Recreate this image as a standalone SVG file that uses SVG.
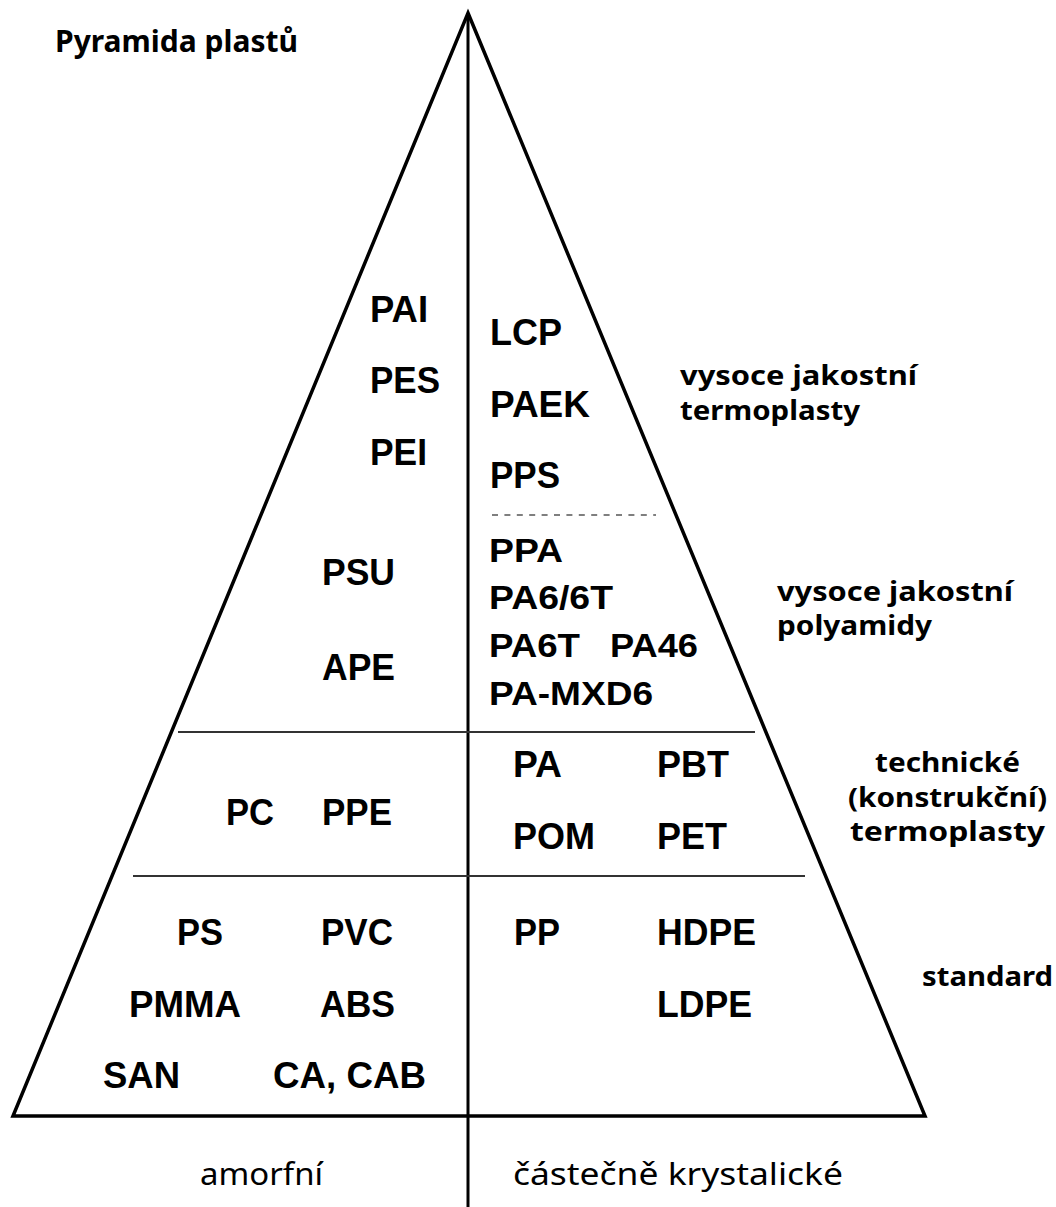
<svg xmlns="http://www.w3.org/2000/svg" width="1056" height="1207" viewBox="0 0 1056 1207">
<style>
.frame{fill:none;stroke:#000;stroke-width:3.5;stroke-linejoin:miter}
.axis{stroke:#000;stroke-width:3}
.div{stroke:#333;stroke-width:2}
.dash{stroke:#555;stroke-width:1.6;stroke-dasharray:6 6.4}
.lb{font-family:"Liberation Sans",Arial,sans-serif;font-weight:bold;font-size:37px;fill:#000}
.lm{font-family:"Liberation Sans",Arial,sans-serif;font-weight:bold;font-size:33px;fill:#000}
.cat{font-family:"Noto Sans","Open Sans",sans-serif;font-weight:bold;font-size:26px;fill:#000}
.bot{font-family:"Noto Sans","Open Sans",sans-serif;font-size:30px;fill:#000}
.title{font-family:"Noto Sans","Open Sans",sans-serif;font-weight:bold;font-size:30px;fill:#000}
</style>
<rect width="1056" height="1207" fill="#fff"/>
<g id="connectors">
<polygon class="frame" points="468,13 925,1116 13,1116"/>
<line class="axis" x1="468" y1="13" x2="468" y2="1207"/>
<line class="div" x1="178" y1="732" x2="755" y2="732"/>
<line class="div" x1="133" y1="876" x2="805" y2="876"/>
<line class="dash" x1="492" y1="515" x2="656" y2="515"/>
</g>
<g id="title"><text class="title" x="55" y="52" textLength="243" lengthAdjust="spacingAndGlyphs">Pyramida plastů</text></g>
<g id="amorphous-high">
<text class="lb" x="370" y="322" textLength="58" lengthAdjust="spacingAndGlyphs">PAI</text>
<text class="lb" x="370" y="393" textLength="70" lengthAdjust="spacingAndGlyphs">PES</text>
<text class="lb" x="370" y="465" textLength="57" lengthAdjust="spacingAndGlyphs">PEI</text>
<text class="lb" x="322" y="585" textLength="73" lengthAdjust="spacingAndGlyphs">PSU</text>
<text class="lb" x="322" y="680" textLength="73" lengthAdjust="spacingAndGlyphs">APE</text>
</g>
<g id="crystalline-high">
<text class="lb" x="490" y="345" textLength="72" lengthAdjust="spacingAndGlyphs">LCP</text>
<text class="lb" x="490" y="417" textLength="100" lengthAdjust="spacingAndGlyphs">PAEK</text>
<text class="lb" x="490" y="488" textLength="70" lengthAdjust="spacingAndGlyphs">PPS</text>
</g>
<g id="polyamides">
<text class="lm" x="489" y="562" textLength="74" lengthAdjust="spacingAndGlyphs">PPA</text>
<text class="lm" x="489" y="609" textLength="124" lengthAdjust="spacingAndGlyphs">PA6/6T</text>
<text class="lm" x="489" y="657" textLength="91" lengthAdjust="spacingAndGlyphs">PA6T</text>
<text class="lm" x="610" y="657" textLength="88" lengthAdjust="spacingAndGlyphs">PA46</text>
<text class="lm" x="489" y="705" textLength="164" lengthAdjust="spacingAndGlyphs">PA-MXD6</text>
</g>
<g id="technical">
<text class="lb" x="226" y="825" textLength="48" lengthAdjust="spacingAndGlyphs">PC</text>
<text class="lb" x="322" y="825" textLength="70" lengthAdjust="spacingAndGlyphs">PPE</text>
<text class="lb" x="513" y="777" textLength="49" lengthAdjust="spacingAndGlyphs">PA</text>
<text class="lb" x="657" y="777" textLength="72" lengthAdjust="spacingAndGlyphs">PBT</text>
<text class="lb" x="513" y="849" textLength="82" lengthAdjust="spacingAndGlyphs">POM</text>
<text class="lb" x="657" y="849" textLength="70" lengthAdjust="spacingAndGlyphs">PET</text>
</g>
<g id="standard">
<text class="lb" x="177" y="945" textLength="46" lengthAdjust="spacingAndGlyphs">PS</text>
<text class="lb" x="321" y="945" textLength="72" lengthAdjust="spacingAndGlyphs">PVC</text>
<text class="lb" x="514" y="945" textLength="46" lengthAdjust="spacingAndGlyphs">PP</text>
<text class="lb" x="657" y="945" textLength="99" lengthAdjust="spacingAndGlyphs">HDPE</text>
<text class="lb" x="129" y="1017" textLength="112" lengthAdjust="spacingAndGlyphs">PMMA</text>
<text class="lb" x="320" y="1017" textLength="75" lengthAdjust="spacingAndGlyphs">ABS</text>
<text class="lb" x="657" y="1017" textLength="95" lengthAdjust="spacingAndGlyphs">LDPE</text>
<text class="lb" x="103" y="1088" textLength="77" lengthAdjust="spacingAndGlyphs">SAN</text>
<text class="lb" x="273" y="1088" textLength="153" lengthAdjust="spacingAndGlyphs">CA, CAB</text>
</g>
<g id="categories">
<text class="cat" x="680" y="385" textLength="237" lengthAdjust="spacingAndGlyphs">vysoce jakostní</text>
<text class="cat" x="680" y="420" textLength="180" lengthAdjust="spacingAndGlyphs">termoplasty</text>
<text class="cat" x="777" y="601" textLength="236" lengthAdjust="spacingAndGlyphs">vysoce jakostní</text>
<text class="cat" x="777" y="635" textLength="155" lengthAdjust="spacingAndGlyphs">polyamidy</text>
<text class="cat" x="875" y="772" textLength="145" lengthAdjust="spacingAndGlyphs">technické</text>
<text class="cat" x="848" y="807" textLength="199" lengthAdjust="spacingAndGlyphs">(konstrukční)</text>
<text class="cat" x="850" y="841" textLength="195" lengthAdjust="spacingAndGlyphs">termoplasty</text>
<text class="cat" x="922" y="986" textLength="131" lengthAdjust="spacingAndGlyphs">standard</text>
</g>
<g id="axis-labels">
<text class="bot" x="200" y="1185" textLength="123" lengthAdjust="spacingAndGlyphs">amorfní</text>
<text class="bot" x="513" y="1185" textLength="330" lengthAdjust="spacingAndGlyphs">částečně krystalické</text>
</g>
</svg>
